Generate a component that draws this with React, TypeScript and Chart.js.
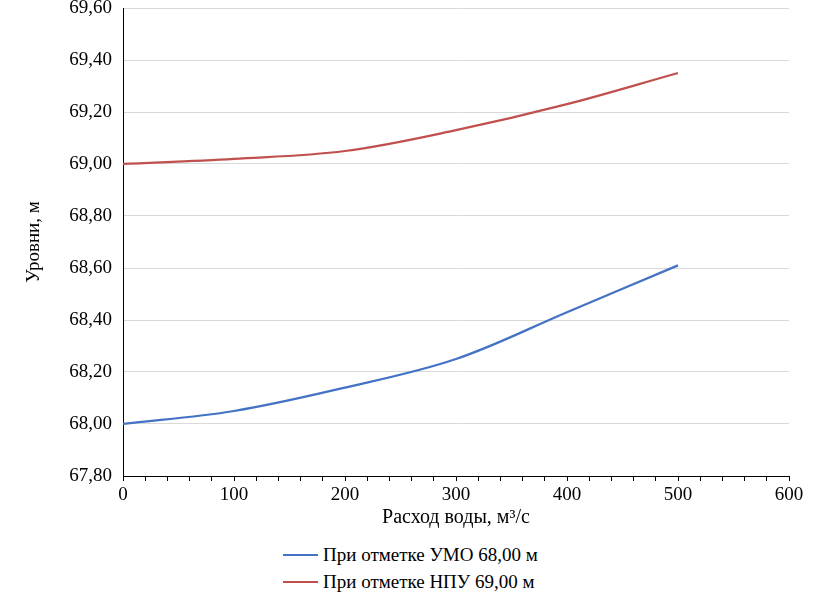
import React, { useEffect, useRef } from "react";
import { Chart, registerables } from "chart.js";

Chart.register(...registerables);

const flows = [0, 100, 200, 300, 400, 500];
const levelsUMO = [68.0, 68.05, 68.14, 68.25, 68.43, 68.61];
const levelsNPU = [69.0, 69.02, 69.05, 69.13, 69.23, 69.35];
const seriesNames = ["При отметке УМО 68,00 м", "При отметке НПУ 69,00 м"];
const seriesColors = ["#4472C4", "#C0504D"];
const xTitle = "Расход воды, м³/с";
const yTitle = "Уровни, м";

const FONT = "'Liberation Serif', 'Times New Roman', serif";
Chart.defaults.font.family = FONT;

export default function App() {
  const ref = useRef<HTMLCanvasElement>(null);

  useEffect(() => {
    if (!ref.current) return;
    const mk = (vals: number[]) => flows.map((x, i) => ({ x, y: vals[i] }));
    const chart = new Chart(ref.current, {
      type: "line",
      data: {
        datasets: [
          {
            label: seriesNames[0],
            data: mk(levelsUMO),
            borderColor: seriesColors[0],
            backgroundColor: seriesColors[0],
            borderWidth: 2.25,
            pointRadius: 0,
            tension: 0.35,
          },
          {
            label: seriesNames[1],
            data: mk(levelsNPU),
            borderColor: seriesColors[1],
            backgroundColor: seriesColors[1],
            borderWidth: 2.25,
            pointRadius: 0,
            tension: 0.35,
          },
        ],
      },
      options: {
        responsive: false,
        animation: false,
        layout: { padding: { top: 8, right: 32, bottom: 0, left: 0 } },
        plugins: { legend: { display: false }, tooltip: { enabled: false } },
        scales: {
          x: {
            type: "linear",
            min: 0,
            max: 600,
            afterFit: (s: any) => {
              s.height = 64;
              s.paddingLeft = 0;
              s.paddingRight = 0;
            },
            ticks: {
              stepSize: 20,
              autoSkip: false,
              maxRotation: 0,
              padding: 3,
              color: "#000",
              font: { family: FONT, size: 19 },
              callback: (v: any) => (Number(v) % 100 === 0 ? String(v) : ""),
            },
            grid: {
              display: true,
              drawOnChartArea: false,
              drawTicks: true,
              tickLength: 5,
              color: "#000",
            },
            border: { display: true, color: "#000", width: 1 },
            title: {
              display: true,
              text: xTitle,
              color: "#000",
              font: { family: FONT, size: 20 },
              padding: { top: 2, bottom: 10 },
            },
          },
          y: {
            type: "linear",
            min: 67.8,
            max: 69.6,
            afterFit: (s: any) => {
              s.width = 123;
              s.paddingTop = 0;
              s.paddingBottom = 0;
            },
            ticks: {
              stepSize: 0.2,
              padding: 11,
              color: "#000",
              font: { family: FONT, size: 19 },
              callback: (v: any) => Number(v).toFixed(2).replace(".", ","),
            },
            grid: { color: "#d9d9d9", drawTicks: false, lineWidth: 1 },
            border: { display: true, color: "#000", width: 1 },
            title: {
              display: true,
              text: yTitle,
              color: "#000",
              font: { family: FONT, size: 19 },
              padding: { top: 23, bottom: 0 },
            },
          },
        },
      },
    });
    return () => chart.destroy();
  }, []);

  const legendRow = (i: number, top: number) => (
    <div
      key={i}
      style={{
        position: "absolute",
        left: 283,
        top,
        height: 24,
        display: "flex",
        alignItems: "center",
        fontFamily: FONT,
        fontSize: 19,
        color: "#000",
        whiteSpace: "nowrap",
      }}
    >
      <span
        style={{
          display: "inline-block",
          width: 35,
          height: 2.5,
          background: seriesColors[i],
          marginRight: 5,
        }}
      />
      <span>{seriesNames[i]}</span>
    </div>
  );

  return (
    <div
      style={{
        position: "absolute",
        left: 0,
        top: 0,
        width: 821,
        height: 602,
        background: "#fff",
        overflow: "hidden",
      }}
    >
      <canvas ref={ref} width={821} height={540} style={{ display: "block" }} />
      {legendRow(0, 543)}
      {legendRow(1, 570)}
    </div>
  );
}
